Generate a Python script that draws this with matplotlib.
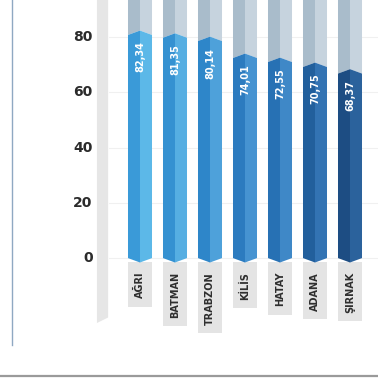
#!/usr/bin/env python3
import matplotlib
matplotlib.use("Agg")
import matplotlib.pyplot as plt
from matplotlib.lines import Line2D

provinces = ["AĞRI", "BATMAN", "TRABZON", "KİLİS", "HATAY", "ADANA", "ŞIRNAK"]
values = [82.34, 81.35, 80.14, 74.01, 72.55, 70.75, 68.37]
value_labels = ["82,34", "81,35", "80,14", "74,01", "72,55", "70,75", "68,37"]
yticks = [0, 20, 40, 60, 80]

dark_side = ["#3a9ad8", "#3591d1", "#2e86c9", "#2c7bbf", "#2771b4", "#225f9c", "#1d4d83"]
light_side = ["#5cb8e8", "#56aee2", "#4ea1da", "#4693d1", "#3f88c7", "#3373b3", "#2b629c"]


def main():
    fig = plt.figure(figsize=(3.78, 3.78), dpi=100)
    ax = fig.add_axes([0, 0, 1, 1])
    px = 2.7625  # pixels per unit
    ax.set_xlim(-4, 6.8)
    ax.set_ylim(-43.4, 93.4)
    ax.axis("off")

    w = 0.343
    tip = 1.6
    top = 93.4

    # faint grid
    for t in yticks:
        ax.plot([-0.9, 6.8], [t, t], color="#f0f0f0", lw=0.8, zorder=0)
        ax.text(-1.35, t, str(t), ha="right", va="center", fontsize=10,
                fontweight="bold", color="#2b2b2b", family="DejaVu Sans")

    # grey column next to the axis labels
    ax.fill([-1.23, -0.91, -0.91, -1.23], [top, top, -21.5, -23.5],
            color="#e6e6e6", lw=0, zorder=1)

    for i, (v, lab, vl) in enumerate(zip(values, provinces, value_labels)):
        # grey rail above the bar
        ax.fill([i - w, i, i, i - w], [top, top, v, v - tip], color="#a9bccb", lw=0, zorder=1)
        ax.fill([i, i + w, i + w, i], [top, top, v - tip, v], color="#c6d3de", lw=0, zorder=1)
        # bar with chevron ends
        ax.fill([i - w, i, i, i - w], [v - tip, v, -tip, 0],
                color=dark_side[i], lw=0, zorder=2)
        ax.fill([i, i + w, i + w, i], [v, v - tip, 0, -tip],
                color=light_side[i], lw=0, zorder=2)
        ax.text(i, v - 4.0, vl, rotation=90, ha="center", va="top", fontsize=7,
                fontweight="bold", color="white", zorder=3)

        t = ax.text(i, -5.0, lab, rotation=90, ha="center", va="top", fontsize=7,
                    fontweight="bold", color="#2e2e2e", zorder=3)
        fig.canvas.draw()
        bb = t.get_window_extent().transformed(ax.transData.inverted())
        ax.fill([i - w, i + w, i + w, i - w], [-1.5, -1.5, bb.y0 - 3.0, bb.y0 - 3.0],
                color="#e4e4e4", lw=0, zorder=1)

    # thin left rule and bottom rule
    ax.add_line(Line2D([-3.66, -3.66], [top, -31.5], color="#8fa8c2", lw=1.0))
    ax.add_line(Line2D([-4, 6.8], [-42.6, -42.6], color="#9a9a9a", lw=1.6))

    fig.savefig("out.png", dpi=100, facecolor="white")


if __name__ == "__main__":
    main()
